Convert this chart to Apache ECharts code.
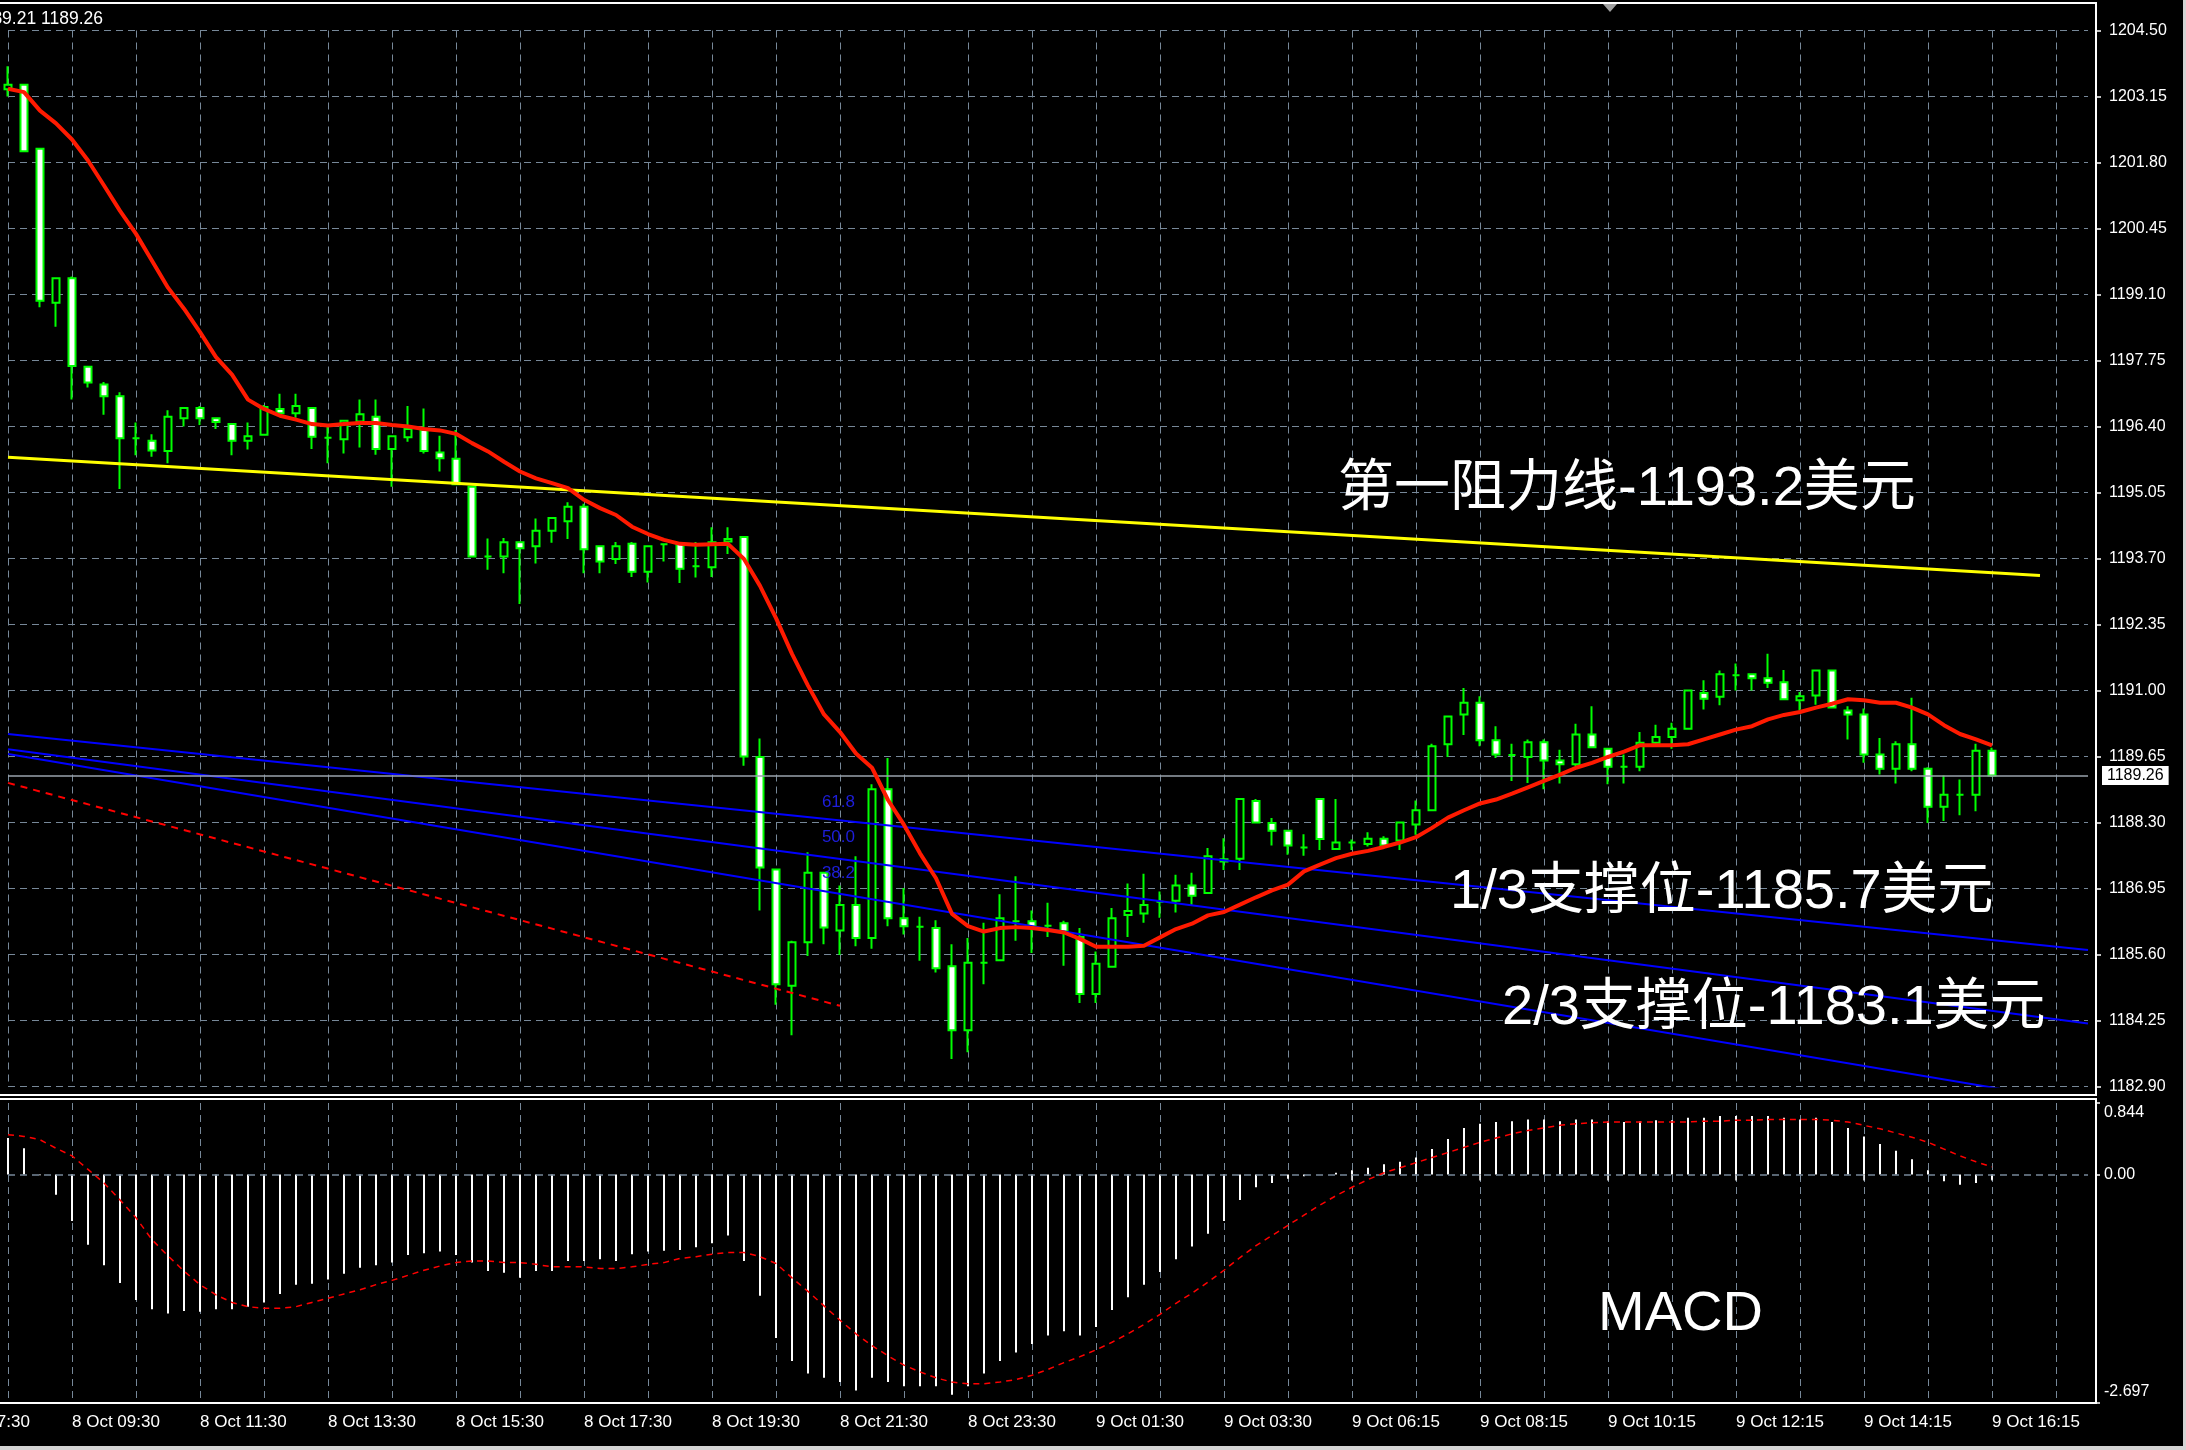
<!DOCTYPE html>
<html><head><meta charset="utf-8">
<script src="https://cdn.jsdelivr.net/npm/echarts@6/dist/echarts.min.js"></script>
<style>html,body{margin:0;padding:0;background:#000;}#c{width:2186px;height:1450px;}</style>
</head><body><div id="c"></div>
<script>
const TIMES_8 = '08:30 08:45 09:00 09:15 09:30 09:45 10:00 10:15 10:30 10:45 11:00 11:15 11:30 11:45 12:00 12:15 12:30 12:45 13:00 13:15 13:30 13:45 14:00 14:15 14:30 14:45 15:00 15:15 15:30 15:45 16:00 16:15 16:30 16:45 17:00 17:15 17:30 17:45 18:00 18:15 18:30 18:45 19:00 19:15 19:30 19:45 20:00 20:15 20:30 20:45 21:00 21:15 21:30 21:45 22:00 22:15 22:30 22:45 23:00 23:15 23:30 23:45'.split(' ');
const TIMES_9 = '00:00 00:15 00:30 00:45 01:00 01:15 01:30 01:45 02:00 02:15 02:30 02:45 03:00 03:15 03:30 03:45 04:00 04:15 04:30 04:45 05:45 06:00 06:15 06:30 06:45 07:00 07:15 07:30 07:45 08:00 08:15 08:30 08:45 09:00 09:15 09:30 09:45 10:00 10:15 10:30 10:45 11:00 11:15 11:30 11:45 12:00 12:15 12:30 12:45 13:00 13:15 13:30 13:45 14:00 14:15 14:30 14:45 15:00 15:15 15:30 15:45 16:00 16:15 16:30 16:45 17:00 17:15 17:30 17:45'.split(' ');
const CATEGORIES = TIMES_8.map(t => '8 Oct ' + t).concat(TIMES_9.map(t => '9 Oct ' + t));

const OPEN = [1203.30,1203.39,1202.08,1198.93,1199.43,1197.62,1197.26,1197.02,1196.16,1196.11,
1195.90,1196.57,1196.78,1196.57,1196.45,1196.11,1196.23,1196.76,1196.67,1196.78,
1196.17,1196.14,1196.50,1196.60,1195.94,1196.18,1196.33,1195.87,1195.74,1195.17,
1193.74,1193.74,1194.03,1193.95,1194.27,1194.46,1194.76,1193.95,1193.69,1194.00,
1193.43,1193.99,1194.01,1193.54,1193.52,1194.05,1194.14,1189.64,1187.34,1184.96,
1185.85,1187.27,1186.09,1186.61,1185.94,1188.98,1186.34,1186.17,1186.14,1185.36,
1184.05,1185.43,1185.48,1186.28,1186.28,1186.19,1186.24,1185.96,1184.79,1185.35,
1186.41,1186.44,1186.68,1186.70,1187.01,1186.86,1187.50,1187.56,1188.74,1188.29,
1188.13,1187.79,1188.78,1187.76,1187.89,1187.86,1187.97,1187.93,1188.26,1188.55,
1189.90,1190.51,1190.75,1189.98,1189.68,1189.64,1189.94,1189.57,1189.49,1190.10,
1189.81,1189.44,1189.44,1189.93,1190.05,1190.22,1190.95,1190.87,1191.31,1191.33,
1191.25,1191.17,1190.80,1190.90,1191.41,1190.59,1190.51,1189.69,1189.40,1189.90,
1189.40,1188.62,1188.87,1188.87,1189.77];
const CLOSE = [1203.39,1202.03,1198.97,1199.43,1197.64,1197.30,1197.02,1196.16,1196.16,1195.91,
1196.60,1196.78,1196.57,1196.49,1196.11,1196.20,1196.80,1196.67,1196.82,1196.19,
1196.17,1196.52,1196.65,1195.94,1196.20,1196.35,1195.90,1195.75,1195.22,1193.74,
1193.74,1194.03,1193.91,1194.27,1194.53,1194.76,1193.89,1193.64,1193.95,1193.43,
1193.95,1193.99,1193.49,1193.54,1194.03,1194.10,1189.65,1187.38,1184.99,1185.85,
1187.27,1186.15,1186.61,1185.94,1188.98,1186.34,1186.18,1186.17,1185.32,1184.05,
1185.43,1185.43,1186.34,1186.28,1186.17,1186.19,1186.07,1184.79,1185.41,1186.34,
1186.49,1186.61,1186.68,1187.01,1186.80,1187.61,1187.55,1188.78,1188.30,1188.13,
1187.83,1187.79,1187.96,1187.89,1187.89,1187.97,1187.83,1188.30,1188.55,1189.86,
1190.47,1190.75,1189.98,1189.69,1189.68,1189.94,1189.57,1189.49,1190.10,1189.84,
1189.44,1189.44,1189.93,1190.05,1190.22,1191.00,1190.83,1191.33,1191.31,1191.25,
1191.16,1190.82,1190.88,1191.41,1190.65,1190.51,1189.69,1189.40,1189.90,1189.40,
1188.62,1188.87,1188.87,1189.77,1189.26];
const LOW = [1203.15,1202.02,1198.84,1198.44,1196.95,1197.20,1196.64,1195.12,1195.81,1195.78,
1195.65,1196.40,1196.43,1196.35,1195.81,1195.93,1196.23,1196.67,1196.58,1195.94,
1195.65,1195.85,1195.97,1195.82,1195.17,1196.09,1195.85,1195.48,1195.22,1193.74,
1193.47,1193.40,1192.77,1193.60,1194.02,1194.10,1193.40,1193.40,1193.59,1193.32,
1193.21,1193.64,1193.20,1193.31,1193.32,1193.79,1189.46,1186.50,1184.57,1183.95,
1185.57,1185.81,1185.59,1185.77,1185.72,1186.18,1186.01,1185.47,1185.23,1183.46,
1183.60,1184.99,1185.48,1185.88,1185.63,1185.96,1185.37,1184.61,1184.61,1185.35,
1185.96,1186.25,1186.35,1186.46,1186.62,1186.86,1187.33,1187.33,1188.30,1187.83,
1187.64,1187.62,1187.74,1187.76,1187.74,1187.81,1187.83,1187.74,1188.05,1188.54,
1189.64,1190.09,1189.86,1189.62,1189.15,1189.11,1188.98,1189.10,1189.45,1189.83,
1189.08,1189.10,1189.35,1189.90,1189.81,1190.22,1190.61,1190.70,1191.00,1191.00,
1191.05,1190.80,1190.59,1190.71,1190.65,1190.00,1189.52,1189.28,1189.10,1189.35,
1188.29,1188.33,1188.45,1188.53,1189.23];
const HIGH = [1203.77,1203.40,1202.08,1199.43,1199.47,1197.62,1197.31,1197.10,1196.48,1196.24,
1196.73,1196.78,1196.82,1196.57,1196.45,1196.48,1196.84,1197.07,1197.07,1196.78,
1196.40,1196.52,1196.95,1196.95,1196.20,1196.82,1196.77,1196.21,1196.33,1195.17,
1194.11,1194.12,1194.03,1194.52,1194.53,1194.85,1194.82,1193.95,1194.04,1194.04,
1193.95,1194.00,1194.01,1194.04,1194.34,1194.34,1194.14,1190.02,1187.34,1185.88,
1187.69,1187.27,1187.01,1187.61,1189.08,1189.62,1186.96,1186.37,1186.30,1185.81,
1185.94,1186.25,1186.83,1187.20,1186.50,1186.66,1186.29,1186.14,1185.66,1186.55,
1187.05,1187.25,1186.89,1187.23,1187.27,1187.78,1187.98,1188.78,1188.78,1188.39,
1188.13,1188.06,1188.78,1188.78,1187.95,1188.10,1188.02,1188.30,1188.75,1189.91,
1190.47,1191.05,1190.88,1190.27,1189.91,1190.00,1190.00,1189.79,1190.32,1190.68,
1189.83,1189.69,1190.15,1190.30,1190.34,1191.02,1191.21,1191.41,1191.55,1191.35,
1191.75,1191.42,1190.97,1191.41,1191.41,1190.68,1190.63,1190.03,1189.96,1190.85,
1189.43,1189.26,1189.18,1189.91,1189.83];
const MA = [1203.31,1203.24,1202.86,1202.60,1202.27,1201.84,1201.33,1200.81,1200.34,1199.79,
1199.24,1198.81,1198.33,1197.82,1197.46,1196.95,1196.76,1196.62,1196.54,1196.45,
1196.42,1196.45,1196.47,1196.47,1196.43,1196.40,1196.35,1196.32,1196.25,1196.06,
1195.89,1195.68,1195.48,1195.34,1195.24,1195.14,1194.90,1194.73,1194.59,1194.35,
1194.20,1194.08,1194.00,1193.98,1193.99,1194.00,1193.69,1193.14,1192.48,1191.75,
1191.10,1190.51,1190.15,1189.71,1189.42,1188.76,1188.25,1187.67,1187.16,1186.43,
1186.18,1186.07,1186.14,1186.16,1186.14,1186.10,1186.05,1185.92,1185.76,1185.76,
1185.76,1185.78,1185.95,1186.12,1186.23,1186.40,1186.47,1186.62,1186.77,1186.91,
1187.03,1187.30,1187.44,1187.57,1187.66,1187.72,1187.80,1187.89,1188.00,1188.19,
1188.40,1188.55,1188.69,1188.77,1188.89,1189.02,1189.15,1189.28,1189.42,1189.52,
1189.64,1189.75,1189.88,1189.88,1189.88,1189.90,1190.00,1190.10,1190.20,1190.27,
1190.41,1190.50,1190.56,1190.65,1190.73,1190.82,1190.80,1190.75,1190.75,1190.65,
1190.51,1190.29,1190.11,1190.00,1189.88];
const MACD_HIST = [0.43,0.31,-0.01,-0.24,-0.55,-0.83,-1.07,-1.28,-1.48,-1.59,
-1.64,-1.61,-1.62,-1.59,-1.59,-1.56,-1.51,-1.41,-1.30,-1.29,
-1.24,-1.17,-1.10,-1.07,-1.04,-0.95,-0.93,-0.91,-0.95,-1.04,
-1.14,-1.16,-1.22,-1.14,-1.14,-1.02,-1.02,-1.00,-1.02,-0.94,
-0.91,-0.90,-0.89,-0.86,-0.81,-0.72,-1.02,-1.43,-1.93,-2.20,
-2.35,-2.40,-2.45,-2.55,-2.40,-2.45,-2.50,-2.50,-2.50,-2.60,
-2.50,-2.35,-2.20,-2.10,-2.00,-1.90,-1.85,-1.90,-1.80,-1.60,
-1.45,-1.30,-1.15,-1.00,-0.85,-0.70,-0.55,-0.30,-0.15,-0.10,
-0.05,-0.02,0.00,0.02,0.05,0.08,0.12,0.15,0.20,0.30,
0.42,0.55,0.60,0.62,0.63,0.65,0.65,0.63,0.65,0.65,
0.63,0.62,0.63,0.64,0.64,0.67,0.67,0.69,0.69,0.69,
0.69,0.67,0.65,0.67,0.62,0.55,0.45,0.36,0.28,0.18,
0.05,-0.08,-0.12,-0.10,-0.06];
const MACD_SIGNAL = [0.47,0.45,0.41,0.31,0.22,0.06,-0.10,-0.30,-0.51,-0.77,
-0.96,-1.14,-1.30,-1.42,-1.51,-1.56,-1.58,-1.58,-1.56,-1.51,
-1.46,-1.41,-1.36,-1.30,-1.25,-1.19,-1.13,-1.08,-1.04,-1.02,
-1.02,-1.04,-1.04,-1.06,-1.09,-1.09,-1.09,-1.11,-1.11,-1.09,
-1.06,-1.04,-0.99,-0.97,-0.94,-0.92,-0.92,-0.97,-1.05,-1.22,
-1.38,-1.55,-1.72,-1.88,-2.02,-2.14,-2.25,-2.33,-2.40,-2.45,
-2.47,-2.47,-2.45,-2.42,-2.37,-2.30,-2.22,-2.15,-2.07,-1.98,
-1.88,-1.77,-1.65,-1.52,-1.40,-1.27,-1.13,-0.98,-0.84,-0.72,
-0.60,-0.48,-0.36,-0.25,-0.15,-0.06,0.02,0.08,0.14,0.20,
0.26,0.32,0.38,0.43,0.48,0.52,0.55,0.58,0.60,0.61,
0.62,0.62,0.62,0.62,0.62,0.62,0.63,0.63,0.64,0.64,
0.65,0.65,0.65,0.65,0.64,0.62,0.58,0.54,0.49,0.44,
0.38,0.30,0.22,0.15,0.09];

const RESIST_LINE = [[0, 1195.77], [127, 1193.35]];
const FIB_618 = [[0, 1190.11], [130, 1185.69]];
const FIB_500 = [[0, 1189.80], [130, 1184.19]];
const FIB_382 = [[0, 1189.70], [130, 1182.55]];
const RED_TREND = [[0, 1189.11], [52, 1184.55]];
const LAST_PRICE = 1189.26;
const PRICE_MIN = 1182.90, PRICE_MAX = 1204.50, PRICE_STEP = 1.35;
const MACD_MIN = -2.697, MACD_MAX = 0.844;

const FONT = '"Liberation Sans", "Noto Sans CJK SC", sans-serif';
const GRIDC = '#778899';
const candles = OPEN.map((o, i) => [o, CLOSE[i], LOW[i], HIGH[i]]);
const gridLineEvery4 = (i) => i % 4 === 0;
const labelEvery8 = (i) => i >= 4 && (i - 4) % 8 === 0;

const chart = echarts.init(document.getElementById('c'), null, {renderer: 'canvas'});
const bigText = (txt, x, y) => ({type: 'text', x: x, y: y, z: 200,
  style: {text: txt, fill: '#fff', font: '56px ' + FONT, textVerticalAlign: 'middle', textAlign: 'left'}});
const fibText = (txt, y) => ({type: 'text', x: 855, y: y, z: 200,
  style: {text: txt, fill: '#1e1edc', font: '17px ' + FONT, textVerticalAlign: 'middle', textAlign: 'right'}});

chart.setOption({
  backgroundColor: '#000',
  animation: false,
  grid: [
    {left: 8, width: 2080, top: 30.5, height: 1056},
    {left: 8, width: 2080, top: 1103, height: 300}
  ],
  xAxis: [
    {type: 'category', gridIndex: 0, data: CATEGORIES, boundaryGap: false,
     axisLine: {show: false}, axisTick: {show: false}, axisLabel: {show: false},
     splitLine: {show: true, interval: gridLineEvery4, lineStyle: {color: GRIDC, type: [7, 5], width: 1}}},
    {type: 'category', gridIndex: 1, data: CATEGORIES, boundaryGap: false, position: 'bottom',
     axisLine: {show: false},
     axisTick: {show: true, interval: labelEvery8, length: 6, lineStyle: {color: '#fff', width: 1.5}},
     axisLabel: {show: true, interval: labelEvery8, color: '#fff', fontSize: 17, fontFamily: FONT, align: 'left', margin: 11},
     splitLine: {show: true, interval: gridLineEvery4, lineStyle: {color: GRIDC, type: [7, 5], width: 1}}}
  ],
  yAxis: [
    {type: 'value', gridIndex: 0, position: 'right', offset: 8, min: PRICE_MIN, max: PRICE_MAX, interval: PRICE_STEP,
     axisLine: {show: false}, axisTick: {show: true, length: 5, lineStyle: {color: '#fff', width: 1.5}},
     axisLabel: {color: '#fff', fontSize: 16, fontFamily: FONT, margin: 13, formatter: v => v.toFixed(2)},
     splitLine: {show: true, lineStyle: {color: GRIDC, type: [7, 5], width: 1}}},
    {type: 'value', gridIndex: 1, position: 'right', offset: 8, min: MACD_MIN, max: MACD_MAX, interval: -MACD_MIN,
     axisLine: {show: false}, axisTick: {show: true, length: 4, lineStyle: {color: '#fff', width: 1.5}},
     axisLabel: {color: '#fff', fontSize: 16, fontFamily: FONT, margin: 8,
       formatter: v => Math.abs(v) < 1e-9 ? '{m|0.00}' : (v > 0 ? '{t|' + v.toFixed(3) + '}' : '{b|' + v.toFixed(3) + '}'),
       rich: {m: {}, t: {padding: [20, 0, 0, 0]}, b: {padding: [0, 0, 22, 0]}}},
     splitLine: {show: false}}
  ],
  series: [
    {type: 'candlestick', xAxisIndex: 0, yAxisIndex: 0, data: candles, barWidth: 7, z: 2,
     itemStyle: {color: '#000', color0: '#fff', borderColor: '#00ff00', borderColor0: '#00ff00', borderColorDoji: '#00ff00', borderWidth: 2},
     markLine: {silent: true, symbol: 'none', animation: false,
       lineStyle: {color: '#9aa3ad', type: 'solid', width: 1.5},
       label: {show: true, position: 'end', distance: 14, formatter: () => LAST_PRICE.toFixed(2),
         color: '#000', backgroundColor: '#fff', fontSize: 16, fontFamily: FONT, padding: [2, 5, 1, 5]},
       data: [{yAxis: LAST_PRICE}]}},
    {type: 'line', xAxisIndex: 0, yAxisIndex: 0, data: FIB_618, showSymbol: false, z: 4,
     lineStyle: {color: '#0000ff', width: 2}},
    {type: 'line', xAxisIndex: 0, yAxisIndex: 0, data: FIB_500, showSymbol: false, z: 4,
     lineStyle: {color: '#0000ff', width: 2}},
    {type: 'line', xAxisIndex: 0, yAxisIndex: 0, data: FIB_382, showSymbol: false, z: 4,
     lineStyle: {color: '#0000ff', width: 2}},
    {type: 'line', xAxisIndex: 0, yAxisIndex: 0, data: RED_TREND, showSymbol: false, z: 4,
     lineStyle: {color: '#ff0000', width: 2, type: [7, 6]}},
    {type: 'line', xAxisIndex: 0, yAxisIndex: 0, data: RESIST_LINE, showSymbol: false, z: 4,
     lineStyle: {color: '#ffff00', width: 3}},
    {type: 'line', xAxisIndex: 0, yAxisIndex: 0, data: MA, showSymbol: false, z: 5,
     lineStyle: {color: '#ff1a00', width: 4}},
    {type: 'bar', xAxisIndex: 1, yAxisIndex: 1, data: MACD_HIST, barWidth: 2,
     itemStyle: {color: '#ffffff'},
     markLine: {silent: true, symbol: 'none', label: {show: false},
       lineStyle: {color: GRIDC, type: [7, 5], width: 1.5}, data: [{yAxis: 0}]}},
    {type: 'line', xAxisIndex: 1, yAxisIndex: 1, data: MACD_SIGNAL, showSymbol: false, z: 5,
     lineStyle: {color: '#ff0000', width: 1.5, type: [6, 5]}}
  ],
  graphic: [
    {type: 'rect', z: 150, shape: {x: -5, y: 3, width: 2101, height: 1092}, style: {fill: null, stroke: '#fff', lineWidth: 2}},
    {type: 'rect', z: 150, shape: {x: -5, y: 1099, width: 2101, height: 304}, style: {fill: null, stroke: '#fff', lineWidth: 2}},
    {type: 'rect', z: 150, shape: {x: 2183, y: 0, width: 3, height: 1450}, style: {fill: '#d4d4d4'}},
    {type: 'rect', z: 150, shape: {x: 0, y: 1446, width: 2186, height: 4}, style: {fill: '#d4d4d4'}},
    {type: 'polygon', z: 150, shape: {points: [[1603, 4], [1617, 4], [1610, 12]]}, style: {fill: '#a0a0a0'}},
    {type: 'text', x: 103, y: 19, z: 200, style: {text: '1189.21 1189.26', fill: '#fff', font: '17.5px ' + FONT, textAlign: 'right', textVerticalAlign: 'middle'}},
    {type: 'text', x: -58, y: 1422, z: 200, style: {text: '8 Oct 07:30', fill: '#fff', font: '17px ' + FONT, textAlign: 'left', textVerticalAlign: 'middle'}},
    bigText('第一阻力线-1193.2美元', 1338, 490),
    bigText('1/3支撑位-1185.7美元', 1450, 893),
    bigText('2/3支撑位-1183.1美元', 1502, 1009),
    bigText('MACD', 1598, 1315),
    fibText('61.8', 802),
    fibText('50.0', 837),
    fibText('38.2', 873)
  ]
});
</script>
</body></html>
